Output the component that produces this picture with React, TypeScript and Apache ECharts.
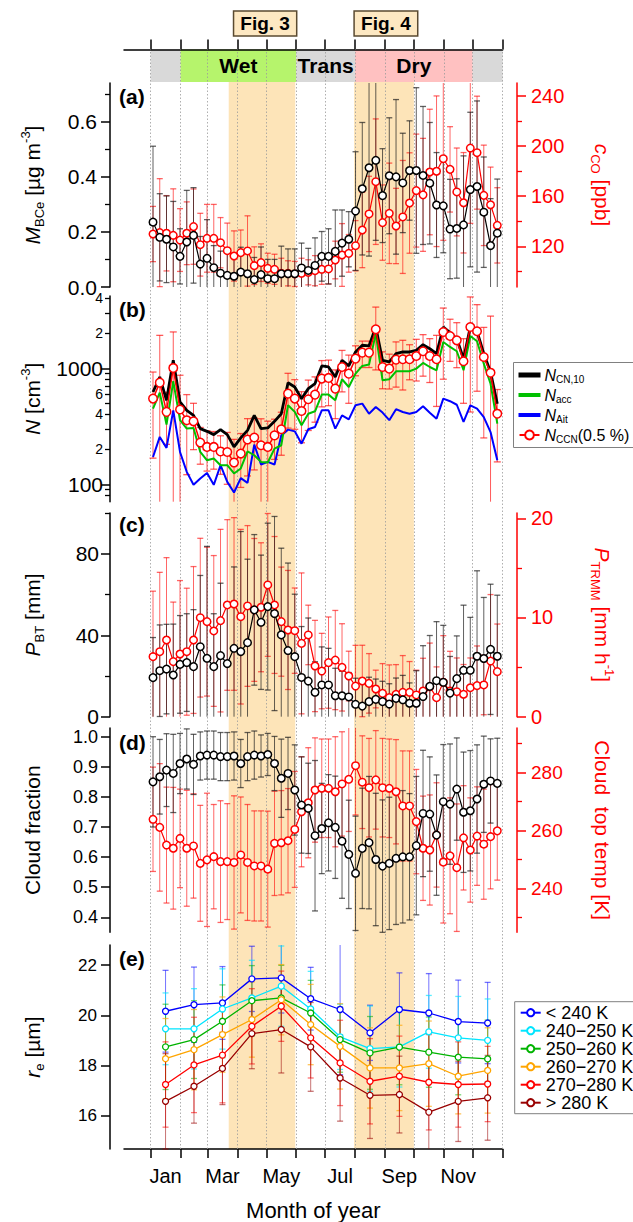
import React, { useEffect, useRef } from "react";
import * as echarts from "echarts";

const FF = '"Liberation Sans", Arial, Helvetica, sans-serif';

// ---------- categories ----------
const weekDays = [2.5, 9.5, 16.5, 23.5, 30.5, 37.5, 44.5, 51.5, 58.5, 65.5, 72.5, 79.5, 86.5, 93.5, 100.5, 107.5, 114.5, 121.5, 128.5, 135.5, 142.5, 149.5, 156.5, 163.5, 170.5, 177.5, 184.5, 191.5, 198.5, 205.5, 212.5, 219.5, 226.5, 233.5, 240.5, 247.5, 254.5, 261.5, 268.5, 275.5, 282.5, 289.5, 296.5, 303.5, 310.5, 317.5, 324.5, 331.5, 338.5, 345.5, 352.5, 359.5];
const monthMid = [15.5, 45, 74.5, 105, 135.5, 166, 196.5, 227.5, 258, 288.5, 319, 349.5];
const monthStarts = [0, 31, 59, 90, 120, 151, 181, 212, 243, 273, 304, 334, 365];
const monthLabelDays = [15.5, 74.5, 135.5, 196.5, 258, 319];
const monthLabels = ["Jan", "Mar", "May", "Jul", "Sep", "Nov"];

const seasonNames = ["", "Wet", "Trans", "Dry", ""];
const seasonStart = [0, 31, 151, 212, 334];
const seasonEnd = [31, 151, 212, 334, 365];
const seasonColors = ["#d9d9d9", "#b6f46c", "#d9d9d9", "#ffc1c1", "#d9d9d9"];
const focusStart = [81, 211];
const focusEnd = [150, 273];
const figNames = ["Fig. 3", "Fig. 4"];
const figStart = [86, 211];
const figEnd = [151.5, 277];

// ---------- (a) ----------
const mbce = [0.235, 0.18, 0.173, 0.145, 0.111, 0.163, 0.187, 0.083, 0.104, 0.07, 0.05, 0.042, 0.039, 0.054, 0.048, 0.027, 0.045, 0.03, 0.03, 0.048, 0.048, 0.048, 0.069, 0.06, 0.078, 0.111, 0.111, 0.129, 0.159, 0.173, 0.275, 0.356, 0.432, 0.459, 0.331, 0.403, 0.399, 0.377, 0.422, 0.422, 0.404, 0.376, 0.297, 0.294, 0.21, 0.212, 0.225, 0.353, 0.364, 0.271, 0.15, 0.195];
const mbceErr = [0.275, 0.158, 0.157, 0.165, 0.1, 0.187, 0.173, 0.1, 0.14, 0.08, 0.08, 0.08, 0.07, 0.09, 0.09, 0.08, 0.1, 0.07, 0.07, 0.1, 0.09, 0.09, 0.09, 0.08, 0.1, 0.09, 0.1, 0.15, 0.12, 0.1, 0.215, 0.24, 0.32, 0.29, 0.17, 0.21, 0.28, 0.18, 0.18, 0.3, 0.25, 0.22, 0.19, 0.17, 0.18, 0.18, 0.25, 0.28, 0.31, 0.2, 0.17, 0.196];
const co = [129.8, 130.9, 130.4, 128.8, 125, 130.4, 135.7, 121.3, 126.4, 126.4, 122.9, 116.5, 112.3, 115, 116.3, 104.6, 107, 102.5, 101.7, 98.5, 98.5, 98, 98.5, 99.3, 100.6, 101.7, 102, 109.1, 113.1, 114.4, 120.5, 133, 145.8, 171.5, 138.9, 146.3, 136.2, 143.4, 154.5, 164.4, 161, 179.2, 179.8, 189.8, 181.3, 163.3, 154.7, 198.3, 194.6, 160.6, 153.1, 136.7];
const coErr = [22, 43, 30, 37, 25, 25, 30, 25, 27, 27, 20, 22, 20, 18, 28, 15, 15, 12, 12, 12, 10, 10, 12, 10, 12, 12, 12, 15, 25, 15, 20, 30, 30, 50, 30, 40, 30, 45, 40, 45, 45, 50, 60, 65, 34, 35, 40, 60, 45, 40, 30, 30];

// ---------- (b) ----------
const nCN10 = [625, 841, 530, 1172, 513, 434, 393, 302, 286, 268, 296, 268, 210, 251, 292, 393, 302, 306, 349, 406, 751, 690, 547, 668, 738, 1048, 1026, 841, 1172, 1048, 1383, 1579, 1559, 2270, 1172, 1134, 1337, 1382, 1382, 1429, 1597, 1475, 1336, 2270, 2028, 1799, 1210, 2270, 2084, 1336, 929, 495];
const nAcc = [449, 617, 327, 773, 357, 302, 306, 190, 161, 167, 146, 146, 124, 137, 192, 178, 156, 154, 203, 217, 480, 421, 323, 406, 426, 593, 593, 530, 804, 690, 899, 1048, 1076, 1991, 788, 804, 942, 942, 942, 993, 1111, 1026, 961, 1687, 1527, 1402, 961, 1897, 1710, 1096, 736, 333];
const nAit = [172, 256, 206, 434, 190, 128, 99, 112, 125, 99, 146, 105, 85, 113, 103, 220, 148, 156, 148, 264, 296, 286, 224, 298, 312, 434, 434, 302, 393, 363, 480, 496, 406, 464, 415, 357, 444, 420, 406, 420, 470, 413, 368, 547, 520, 485, 345, 479, 449, 380, 282, 161];
const nCCN = [548, 752, 421, 1007, 441, 357, 349, 229, 210, 210, 192, 190, 154, 184, 243, 253, 217, 210, 264, 298, 605, 548, 428, 541, 593, 815, 826, 668, 1026, 899, 1212, 1365, 1365, 2168, 1026, 993, 1188, 1196, 1196, 1277, 1402, 1277, 1196, 2055, 1897, 1742, 1149, 2270, 2084, 1251, 916, 406];
const nCCNErr = [380, 1170, 200, 1050, 430, 236, 150, 80, 80, 75, 70, 90, 90, 90, 125, 120, 150, 140, 100, 120, 300, 250, 200, 250, 250, 350, 350, 300, 400, 400, 350, 350, 350, 1200, 360, 330, 500, 546, 400, 500, 547, 523, 727, 1250, 750, 730, 650, 1850, 1450, 1000, 1900, 250];

// ---------- (c) ----------
const pBT = [19.2, 22.6, 23.4, 20.5, 25.7, 26.6, 24.6, 34.4, 28.7, 24.6, 30, 26.1, 33.6, 32, 36.4, 52.5, 46.4, 54.1, 50.7, 40.2, 32.5, 29.5, 19.3, 17.5, 12, 15.6, 15.6, 10.3, 10.3, 9.7, 6.1, 5.2, 7.4, 8.5, 7.4, 6.2, 9, 8.3, 6.6, 6.6, 9.9, 14.9, 17.7, 16.9, 11.6, 18.7, 22.8, 22.8, 29.7, 28.6, 33.1, 29.7];
const pBTErr = [19.7, 22.5, 22, 25, 24, 24, 28, 35, 55, 26, 35.6, 30, 40, 59, 41, 37, 33, 41, 47.7, 42.6, 43, 30.7, 25, 31, 15, 18.7, 18, 13.5, 12, 12, 12.8, 12, 12, 10, 10, 10, 10, 12, 10, 16, 25, 25, 29, 28, 18, 21, 32, 26, 42, 30, 32, 30];
const pTRMM = [6.05, 6.55, 7.73, 5.55, 6.32, 6.55, 7.73, 9.98, 9.58, 8.64, 9.68, 11.26, 11.36, 10.08, 11.16, 10.76, 11.03, 13.28, 11.26, 9.58, 8.74, 8.67, 7.39, 8.24, 5.11, 4.6, 5.45, 5.71, 4.97, 4.1, 3.09, 3.6, 3.36, 2.79, 2.35, 1.92, 2.25, 2.46, 2.46, 2.19, 2.59, 3.02, 1.92, 3.47, 2.59, 2.52, 2.26, 2.92, 3.13, 3.2, 5.61, 4.54];
const pTRMMErr = [6.6, 8, 8.3, 6, 7.4, 6.4, 7.4, 8, 7.5, 7.6, 9.2, 8.6, 8.7, 8.8, 8.1, 7.2, 6.5, 7.2, 6.9, 5.5, 6, 4.3, 7.1, 3, 4.6, 3.8, 4.6, 5, 4.4, 2.5, 4.1, 3.6, 3, 1.9, 3, 3.3, 3, 3.7, 3.1, 2.5, 3.3, 4.4, 3.1, 4.7, 4, 3.4, 3, 3, 4, 3, 6.7, 4.8];

// ---------- (d) ----------
const cloudFrac = [0.85, 0.867, 0.889, 0.878, 0.911, 0.926, 0.908, 0.936, 0.939, 0.939, 0.934, 0.934, 0.936, 0.911, 0.934, 0.939, 0.936, 0.941, 0.911, 0.862, 0.878, 0.823, 0.773, 0.762, 0.671, 0.695, 0.714, 0.699, 0.653, 0.609, 0.546, 0.629, 0.648, 0.592, 0.57, 0.579, 0.596, 0.601, 0.601, 0.638, 0.745, 0.743, 0.673, 0.784, 0.776, 0.826, 0.749, 0.754, 0.793, 0.842, 0.853, 0.845];
const cloudFracErr = [0.15, 0.124, 0.121, 0.13, 0.1, 0.1, 0.1, 0.08, 0.08, 0.08, 0.08, 0.08, 0.08, 0.08, 0.08, 0.08, 0.07, 0.07, 0.09, 0.13, 0.12, 0.15, 0.16, 0.15, 0.25, 0.15, 0.16, 0.17, 0.19, 0.18, 0.19, 0.2, 0.22, 0.22, 0.22, 0.22, 0.22, 0.22, 0.21, 0.23, 0.21, 0.19, 0.2, 0.19, 0.2, 0.17, 0.2, 0.2, 0.18, 0.16, 0.14, 0.15];
const cloudTop = [263.8, 261, 254.9, 253.8, 257.2, 253.8, 254.6, 248.6, 249.8, 250.9, 249.2, 249.2, 248.9, 251.5, 248.9, 247.7, 247.7, 246.6, 255.5, 255.7, 256.4, 260.3, 266.4, 269.5, 273.9, 274.5, 274.5, 273.3, 276, 277.6, 282.3, 276.6, 274.7, 277.4, 274.7, 274.5, 273.3, 268.4, 268.4, 263, 253.8, 253.2, 258.4, 249, 251.2, 247.1, 257.4, 253.2, 258, 255.2, 257.8, 259.8];
const cloudTopErr = [18, 22, 20, 21, 17, 20, 18, 20, 23, 18, 21, 20, 23, 20, 20, 19, 19, 20, 18, 18, 18, 20, 19, 19, 18, 17, 17, 19, 18, 18, 17, 16, 17, 17, 17, 17, 18, 19, 19, 18, 18, 19, 18, 21, 20, 22, 18, 18, 17, 19, 18, 17];

// ---------- (e) ----------
const reNames = ["< 240 K", "240\u2212250 K", "250\u2212260 K", "260\u2212270 K", "270\u2212280 K", "> 280 K"];
const reLt240 = [20.16, 20.42, 20.49, 21.45, 21.49, 20.66, 20.23, 19.3, 20.23, 20.09, 19.75, 19.69];
const re240 = [19.46, 19.46, 20.25, 20.69, 21.16, 20.25, 19.14, 18.67, 18.74, 19.34, 19.1, 19.0];
const re250 = [18.74, 19.03, 19.76, 20.58, 20.69, 20.09, 19.03, 18.5, 18.73, 18.53, 18.33, 18.26];
const re260 = [18.27, 18.63, 19.23, 19.83, 20.62, 19.63, 18.76, 17.9, 17.9, 18.07, 17.57, 17.8];
const re270 = [17.24, 18.02, 18.41, 19.56, 20.36, 19.1, 18.1, 17.37, 17.57, 17.33, 17.24, 17.26];
const reGt280 = [16.57, 17.17, 17.88, 19.27, 19.43, 18.74, 17.5, 16.81, 16.84, 16.14, 16.57, 16.71];
const reLt240Err = [1.63, 1.5, 1.45, 1.3, 1.4, 1.25, 2.6, 1.1, 1.46, 1.57, 1.65, 1.62];
const re240Err = [1.43, 1.6, 1.6, 1.5, 1.6, 1.5, 1.3, 1.7, 1.6, 1.45, 1.65, 1.65];
const re250Err = [1.7, 1.55, 1.45, 1.4, 1.3, 1.3, 1.3, 1.45, 1.5, 1.4, 1.5, 1.55];
const re260Err = [1.6, 1.6, 1.5, 1.5, 1.4, 1.6, 1.7, 1.6, 1.7, 1.7, 1.5, 1.7];
const re270Err = [1.7, 1.9, 1.9, 1.5, 1.4, 1.6, 1.7, 1.7, 1.6, 1.9, 1.7, 1.5];
const reGt280Err = [1.9, 1.47, 1.44, 1.4, 1.73, 1.77, 1.72, 1.72, 1.53, 1.9, 1.6, 1.69];
const reColors = ["#0000ff", "#00e5ff", "#00b300", "#ffa500", "#ff0000", "#990000"];
const reErrColors = ["rgba(0,0,255,0.55)", "rgba(0,229,255,0.65)", "rgba(0,179,0,0.55)", "rgba(255,165,0,0.65)", "rgba(255,0,0,0.55)", "rgba(153,0,0,0.55)"];

// ---------- layout ----------
const X0 = 150.6;
const PXD = 352 / 365;
const PL = 110;
const PR = 502.6;
const AXL = 124;
const RIGHT_OFF = 14.4;
const dayMin = (left: number) => -(X0 - left) / PXD;
const RED = "#ff0000";

function richFor(fs: number, color: string) {
  const small = Math.round(fs * 0.64);
  return {
    i: { fontStyle: "italic", fontSize: fs, color, fontFamily: FF },
    s: { fontSize: small, color, fontFamily: FF, verticalAlign: "bottom" },
    u: { fontSize: small, color, fontFamily: FF, verticalAlign: "top" },
  };
}

function buildOption() {
  const grids: any[] = [];
  const xAxes: any[] = [];
  const yAxes: any[] = [];
  const series: any[] = [];

  const addGrid = (left: number, top: number, height: number) => {
    grids.push({ left, top, width: PR - left, height, outerBoundsMode: "none", containLabel: false });
    const gi = grids.length - 1;
    xAxes.push({
      type: "value", gridIndex: gi, min: dayMin(left), max: 365, show: false,
      splitLine: { show: false }, axisLine: { onZero: false },
    });
    return gi;
  };
  const addHiddenY = (gi: number) => {
    yAxes.push({ type: "value", gridIndex: gi, min: 0, max: 1, show: false, splitLine: { show: false } });
    return yAxes.length - 1;
  };

  type AxOpt = {
    grid: number; pos: "left" | "right"; min: number; max: number; majors: number[]; minors?: number[];
    labels?: number[]; fmt: (v: number) => string; color: string; fs: number; margin: number; offset?: number;
    name?: string; nameGap?: number; nameRotate?: number; nameFs?: number; labelRich?: any; tickLen?: number;
  };
  const addAxes = (o: AxOpt) => {
    const base = {
      type: "value", gridIndex: o.grid, position: o.pos, offset: o.offset ?? 0, min: o.min, max: o.max,
      splitLine: { show: false }, nameMoveOverlap: false,
    };
    const idx = yAxes.length;
    const nfs = o.nameFs ?? 21;
    yAxes.push({
      ...base,
      axisLine: { show: true, onZero: false, lineStyle: { color: o.color, width: 1.5 } },
      axisTick: { show: true, inside: false, length: o.tickLen ?? 9, customValues: o.majors, lineStyle: { color: o.color, width: 1.5 } },
      axisLabel: {
        show: true, customValues: o.labels ?? o.majors, formatter: o.fmt, color: o.color, fontSize: o.fs,
        fontFamily: FF, margin: o.margin, rich: o.labelRich,
      },
      name: o.name, nameLocation: "middle", nameGap: o.nameGap, nameRotate: o.nameRotate,
      nameTextStyle: { fontFamily: FF, fontSize: nfs, color: o.color, lineHeight: nfs + 6, rich: richFor(nfs, o.color) },
    });
    if (o.minors) {
      yAxes.push({
        ...base,
        axisLine: { show: false, onZero: false },
        axisTick: { show: true, inside: false, length: 5, customValues: o.minors, lineStyle: { color: o.color, width: 1.3 } },
        axisLabel: { show: false },
      });
    }
    return idx;
  };

  const errBars = (gi: number, yi: number, xs: number[], ys: number[], es: number[], color: string, lo: number, hi: number, z: number, cap = 6) => ({
    type: "custom", xAxisIndex: gi, yAxisIndex: yi, z, silent: true,
    data: xs.map((x, i) => [x, ys[i] - es[i], ys[i] + es[i]]),
    encode: { x: 0, y: [1, 2] },
    renderItem: (_p: any, api: any) => {
      const x = api.value(0);
      let a = api.value(1);
      let b = api.value(2);
      const capLo = a >= lo;
      const capHi = b <= hi;
      a = Math.max(a, lo);
      b = Math.min(b, hi);
      const p1 = api.coord([x, a]);
      const p2 = api.coord([x, b]);
      const children: any[] = [
        { type: "line", shape: { x1: p1[0], y1: p1[1], x2: p2[0], y2: p2[1] }, style: { stroke: color, lineWidth: 1 } },
      ];
      if (capLo) children.push({ type: "line", shape: { x1: p1[0] - cap / 2, y1: p1[1], x2: p1[0] + cap / 2, y2: p1[1] }, style: { stroke: color, lineWidth: 1.3 } });
      if (capHi) children.push({ type: "line", shape: { x1: p2[0] - cap / 2, y1: p2[1], x2: p2[0] + cap / 2, y2: p2[1] }, style: { stroke: color, lineWidth: 1.3 } });
      return { type: "group", children };
    },
  });

  const lineS = (name: string, gi: number, yi: number, xs: number[], ys: number[], color: string, width: number, z: number, sym: number | null, bw = 1.5) => ({
    type: "line", name, xAxisIndex: gi, yAxisIndex: yi, z, silent: true,
    data: xs.map((x, i) => [x, ys[i]]),
    symbol: sym ? "circle" : "none", symbolSize: sym ?? 0, showSymbol: !!sym,
    lineStyle: { color, width },
    itemStyle: { color: sym ? "#ffffff" : color, borderColor: color, borderWidth: bw },
    emphasis: { disabled: true },
  });

  // grids
  const gBar = addGrid(AXL, 49.5, 32.5);
  const gDots = addGrid(PL, 49.5, 1149 - 49.5);
  const gBand = addGrid(PL, 82, 1149 - 82);
  const gA = addGrid(PL, 83, 204);
  const gB = addGrid(PL, 296, 205.7);
  const gC = addGrid(PL, 513, 203.7);
  const gD = addGrid(PL, 728, 204.3);
  const gE = addGrid(PL, 945, 204);
  const gAx = addGrid(AXL, 1148, 1);

  // top axis
  xAxes[gBar] = {
    ...xAxes[gBar], show: true, position: "top",
    axisLine: { show: true, onZero: false, lineStyle: { color: "#000", width: 1.5 } },
    axisTick: { show: true, inside: false, length: 10, customValues: monthStarts, lineStyle: { color: "#000", width: 1.5 } },
    axisLabel: { show: false },
  };
  // bottom axis
  xAxes[gAx] = {
    ...xAxes[gAx], show: true, position: "bottom",
    axisLine: { show: true, onZero: false, lineStyle: { color: "#000", width: 1.5 } },
    axisTick: { show: true, inside: false, length: 9, customValues: monthStarts, lineStyle: { color: "#000", width: 1.5 } },
    axisLabel: {
      show: true, customValues: monthLabelDays, margin: 17, fontSize: 20, color: "#000", fontFamily: FF,
      formatter: (v: number) => {
        let bi = 0;
        monthLabelDays.forEach((d, i) => { if (Math.abs(d - v) < Math.abs(monthLabelDays[bi] - v)) bi = i; });
        return monthLabels[bi];
      },
    },
    name: "Month of year", nameLocation: "middle", nameGap: 50,
    nameTextStyle: { fontSize: 22, color: "#000", fontFamily: FF },
  };

  const yBar = addHiddenY(gBar);
  const yDots = addHiddenY(gDots);
  const yBand = addHiddenY(gBand);
  const yAxBottom = addHiddenY(gAx);

  // panel axes
  const yA = addAxes({ grid: gA, pos: "left", min: 0, max: 0.739, majors: [0, 0.2, 0.4, 0.6], minors: [0.1, 0.3, 0.5, 0.7], fmt: (v) => v.toFixed(1), color: "#000", fs: 21, margin: 13, name: "{i|M}{s|BCe} [µg m{u|-3}]", nameGap: 64 });
  const yA2 = addAxes({ grid: gA, pos: "right", offset: RIGHT_OFF, min: 87.6, max: 250.1, majors: [120, 160, 200, 240], minors: [100, 140, 180, 220], fmt: (v) => String(v), color: RED, fs: 20, margin: 14, name: "{i|c}{s|CO} [ppb]", nameGap: 72, nameRotate: -90 });

  const bMin = 70.8, bMax = 4198;
  yAxes.push({ type: "log", logBase: 10, gridIndex: gB, min: bMin, max: bMax, show: false, splitLine: { show: false } });
  const yB = yAxes.length - 1;
  const L = Math.log10;
  addAxes({
    grid: gB, pos: "left", min: L(bMin), max: L(bMax), majors: [2, 3],
    minors: [80, 90, 200, 300, 400, 500, 600, 700, 800, 900, 2000, 3000, 4000].map(L),
    labels: [2, 3, L(200), L(400), L(600), L(2000), L(4000)],
    fmt: (v) => { const n = Math.round(Math.pow(10, v)); return n === 100 || n === 1000 ? `{b|${n}}` : `{m|${String(n)[0]}}`; },
    labelRich: { b: { fontSize: 21, fontFamily: FF, color: "#000" }, m: { fontSize: 14, fontFamily: FF, color: "#000" } },
    color: "#000", fs: 21, margin: 7, name: "{i|N} [cm{u|-3}]", nameGap: 64,
  });

  const yC = addAxes({ grid: gC, pos: "left", min: 0, max: 100.1, majors: [0, 40, 80], minors: [20, 60, 100], fmt: (v) => String(v), color: "#000", fs: 21, margin: 11, name: "{i|P}{s|BT} [mm]", nameGap: 64 });
  const yC2 = addAxes({ grid: gC, pos: "right", offset: RIGHT_OFF, min: 0, max: 20.53, majors: [0, 10, 20], minors: [5, 15], fmt: (v) => String(v), color: RED, fs: 20, margin: 14, name: "{i|P}{s|TRMM} [mm h{u|-1}]", nameGap: 72, nameRotate: -90 });

  const yD = addAxes({ grid: gD, pos: "left", min: 0.35, max: 1.029, majors: [0.4, 0.5, 0.6, 0.7, 0.8, 0.9, 1.0], fmt: (v) => v.toFixed(1), color: "#000", fs: 18, margin: 12, name: "Cloud fraction", nameGap: 64 });
  const yD2 = addAxes({ grid: gD, pos: "right", offset: RIGHT_OFF, min: 224.8, max: 295.3, majors: [240, 260, 280], minors: [230, 250, 270, 290], fmt: (v) => String(v), color: RED, fs: 19, margin: 14, name: "Cloud  top temp [K]", nameGap: 72, nameRotate: -90 });

  const yE = addAxes({ grid: gE, pos: "left", min: 14.67, max: 22.8, majors: [16, 18, 20, 22], fmt: (v) => String(v), color: "#000", fs: 17, margin: 13, name: "{i|r}{s|e} [µm]", nameGap: 64 });

  // background: orange focus bands
  series.push({
    type: "line", xAxisIndex: gBand, yAxisIndex: yBand, data: [], silent: true,
    markArea: {
      silent: true, z: 0, itemStyle: { color: "#fde4b8" }, label: { show: false },
      data: focusStart.map((s, i) => [{ xAxis: s }, { xAxis: focusEnd[i] }]),
    },
  });
  // season bar fills
  series.push({
    type: "line", xAxisIndex: gBar, yAxisIndex: yBar, data: [], silent: true,
    markArea: {
      silent: true, z: 0, label: { show: false },
      data: seasonStart.map((s, i) => [{ xAxis: s, itemStyle: { color: seasonColors[i] } }, { xAxis: seasonEnd[i] }]),
    },
  });
  // dotted month lines
  series.push({
    type: "line", xAxisIndex: gDots, yAxisIndex: yDots, data: [], silent: true,
    markLine: {
      silent: true, z: 1, symbol: ["none", "none"], label: { show: false },
      lineStyle: { color: "#9a9a9a", type: [1.5, 2], width: 0.8 },
      emphasis: { disabled: true },
      data: monthStarts.map((d) => ({ xAxis: d })),
    },
  });
  // season labels
  series.push({
    type: "line", xAxisIndex: gBar, yAxisIndex: yBar, data: [], silent: true,
    markArea: {
      silent: true, z: 2, itemStyle: { color: "rgba(0,0,0,0)" },
      label: { show: true, position: "inside", fontSize: 21, fontWeight: "bold", color: "#000", fontFamily: FF },
      data: seasonStart.map((s, i) => [{ xAxis: s, name: seasonNames[i] }, { xAxis: seasonEnd[i] }]),
    },
  });
  series.push({ type: "line", xAxisIndex: gAx, yAxisIndex: yAxBottom, data: [], silent: true });

  // (a)
  series.push(errBars(gA, yA2, weekDays, co, coErr, "rgba(255,0,0,0.6)", 87.6, 250.1, 3));
  series.push(errBars(gA, yA, weekDays, mbce, mbceErr, "rgba(30,30,30,0.7)", 0, 0.739, 3));
  series.push(lineS("CO", gA, yA2, weekDays, co, RED, 1.2, 4, 7.5));
  series.push(lineS("MBCe", gA, yA, weekDays, mbce, "#000", 1.2, 5, 7.5));

  // (b)
  series.push(errBars(gB, yB, weekDays, nCCN, nCCNErr, "rgba(255,0,0,0.65)", bMin, bMax, 3, 7));
  series.push(lineS("NAit", gB, yB, weekDays, nAit, "#0000ff", 2, 4, null));
  series.push(lineS("Nacc", gB, yB, weekDays, nAcc, "#00c000", 2, 4, null));
  series.push(lineS("NCN10", gB, yB, weekDays, nCN10, "#000000", 2.8, 5, null));
  series.push(lineS("NCCN", gB, yB, weekDays, nCCN, RED, 1.5, 6, 8.5));

  // (c)
  series.push(errBars(gC, yC2, weekDays, pTRMM, pTRMMErr, "rgba(255,0,0,0.6)", 0, 20.53, 3));
  series.push(errBars(gC, yC, weekDays, pBT, pBTErr, "rgba(30,30,30,0.7)", 0, 100.1, 3));
  series.push(lineS("PTRMM", gC, yC2, weekDays, pTRMM, RED, 1.2, 4, 7.5));
  series.push(lineS("PBT", gC, yC, weekDays, pBT, "#000", 1.2, 5, 7.5));

  // (d)
  series.push(errBars(gD, yD2, weekDays, cloudTop, cloudTopErr, "rgba(255,0,0,0.6)", 224.8, 295.3, 3));
  series.push(errBars(gD, yD, weekDays, cloudFrac, cloudFracErr, "rgba(30,30,30,0.7)", 0.35, 1.029, 3));
  series.push(lineS("CTT", gD, yD2, weekDays, cloudTop, RED, 1.2, 4, 7.5));
  series.push(lineS("CF", gD, yD, weekDays, cloudFrac, "#000", 1.2, 5, 7.5));

  // (e)
  const reVals = [reLt240, re240, re250, re260, re270, reGt280];
  const reErrs = [reLt240Err, re240Err, re250Err, re260Err, re270Err, reGt280Err];
  reVals.forEach((v, k) => series.push(errBars(gE, yE, monthMid, v, reErrs[k], reErrColors[k], 14.67, 22.8, 3, 6)));
  reVals.forEach((v, k) => series.push(lineS(reNames[k], gE, yE, monthMid, v, reColors[k], 1.3, 5, 6, 1.3)));

  const legendNames: Record<string, string> = {
    NCN10: "{i|N}{s|CN,10}",
    Nacc: "{i|N}{s|acc}",
    NAit: "{i|N}{s|Ait}",
    NCCN: "{i|N}{s|CCN}(0.5 %)",
  };

  const legend = [
    {
      left: 513.5, top: 362.5, orient: "vertical", selectedMode: false,
      data: [
        { name: "NCN10", icon: "path://M0,0L20,0L20,3L0,3Z", itemStyle: { color: "#000000" } },
        { name: "Nacc", icon: "path://M0,0L20,0L20,2.2L0,2.2Z", itemStyle: { color: "#00c000" } },
        { name: "NAit", icon: "path://M0,0L20,0L20,2.2L0,2.2Z", itemStyle: { color: "#0000ff" } },
        "NCCN",
      ],
      formatter: (n: string) => legendNames[n] ?? n,
      textStyle: { fontFamily: FF, fontSize: 16, color: "#000", lineHeight: 19, rich: richFor(16, "#000") },
      itemWidth: 20, itemHeight: 11, itemGap: 1, padding: [3, 5, 3, 5],
      borderColor: "#808080", borderWidth: 1, backgroundColor: "#ffffff", borderRadius: 0,
    },
    {
      left: 514.7, top: 1001.7, orient: "vertical", selectedMode: false,
      data: reNames,
      textStyle: { fontFamily: FF, fontSize: 18, color: "#000", lineHeight: 18 },
      itemWidth: 20, itemHeight: 9, itemGap: 0, padding: [2, 5, 2, 5],
      borderColor: "#808080", borderWidth: 1, backgroundColor: "#ffffff", borderRadius: 0,
    },
  ];

  const panelLabels = ["(a)", "(b)", "(c)", "(d)", "(e)"];
  const panelLabelY = [96, 309, 524, 742, 958];
  const graphic: any[] = [];
  figNames.forEach((nm, i) => {
    const x1 = X0 + figStart[i] * PXD;
    const x2 = X0 + figEnd[i] * PXD;
    graphic.push({
      type: "rect", z: 10, shape: { x: x1, y: 11, width: x2 - x1, height: 25 },
      style: { fill: "#fde8c2", stroke: "#5a4a30", lineWidth: 1.5 },
    });
    graphic.push({
      type: "text", z: 11, x: (x1 + x2) / 2, y: 23.5,
      style: { text: nm, font: `bold 19px ${FF}`, fill: "#000", align: "center", verticalAlign: "middle", textAlign: "center", textVerticalAlign: "middle" },
    });
  });
  panelLabels.forEach((t, i) => {
    graphic.push({
      type: "text", z: 11, x: 119, y: panelLabelY[i],
      style: { text: t, font: `bold 21px ${FF}`, fill: "#000", align: "left", verticalAlign: "middle", textAlign: "left", textVerticalAlign: "middle" },
    });
  });

  return {
    animation: false,
    backgroundColor: "#ffffff",
    textStyle: { fontFamily: FF },
    grid: grids,
    xAxis: xAxes,
    yAxis: yAxes,
    legend,
    graphic,
    series,
  };
}

export default function App() {
  const ref = useRef<HTMLDivElement>(null);
  useEffect(() => {
    document.body.style.margin = "0";
    const chart = echarts.init(ref.current as HTMLDivElement, null, { renderer: "svg", width: 633, height: 1222 });
    chart.setOption(buildOption() as any);
    return () => chart.dispose();
  }, []);
  return <div ref={ref} style={{ width: 633, height: 1222 }} />;
}
